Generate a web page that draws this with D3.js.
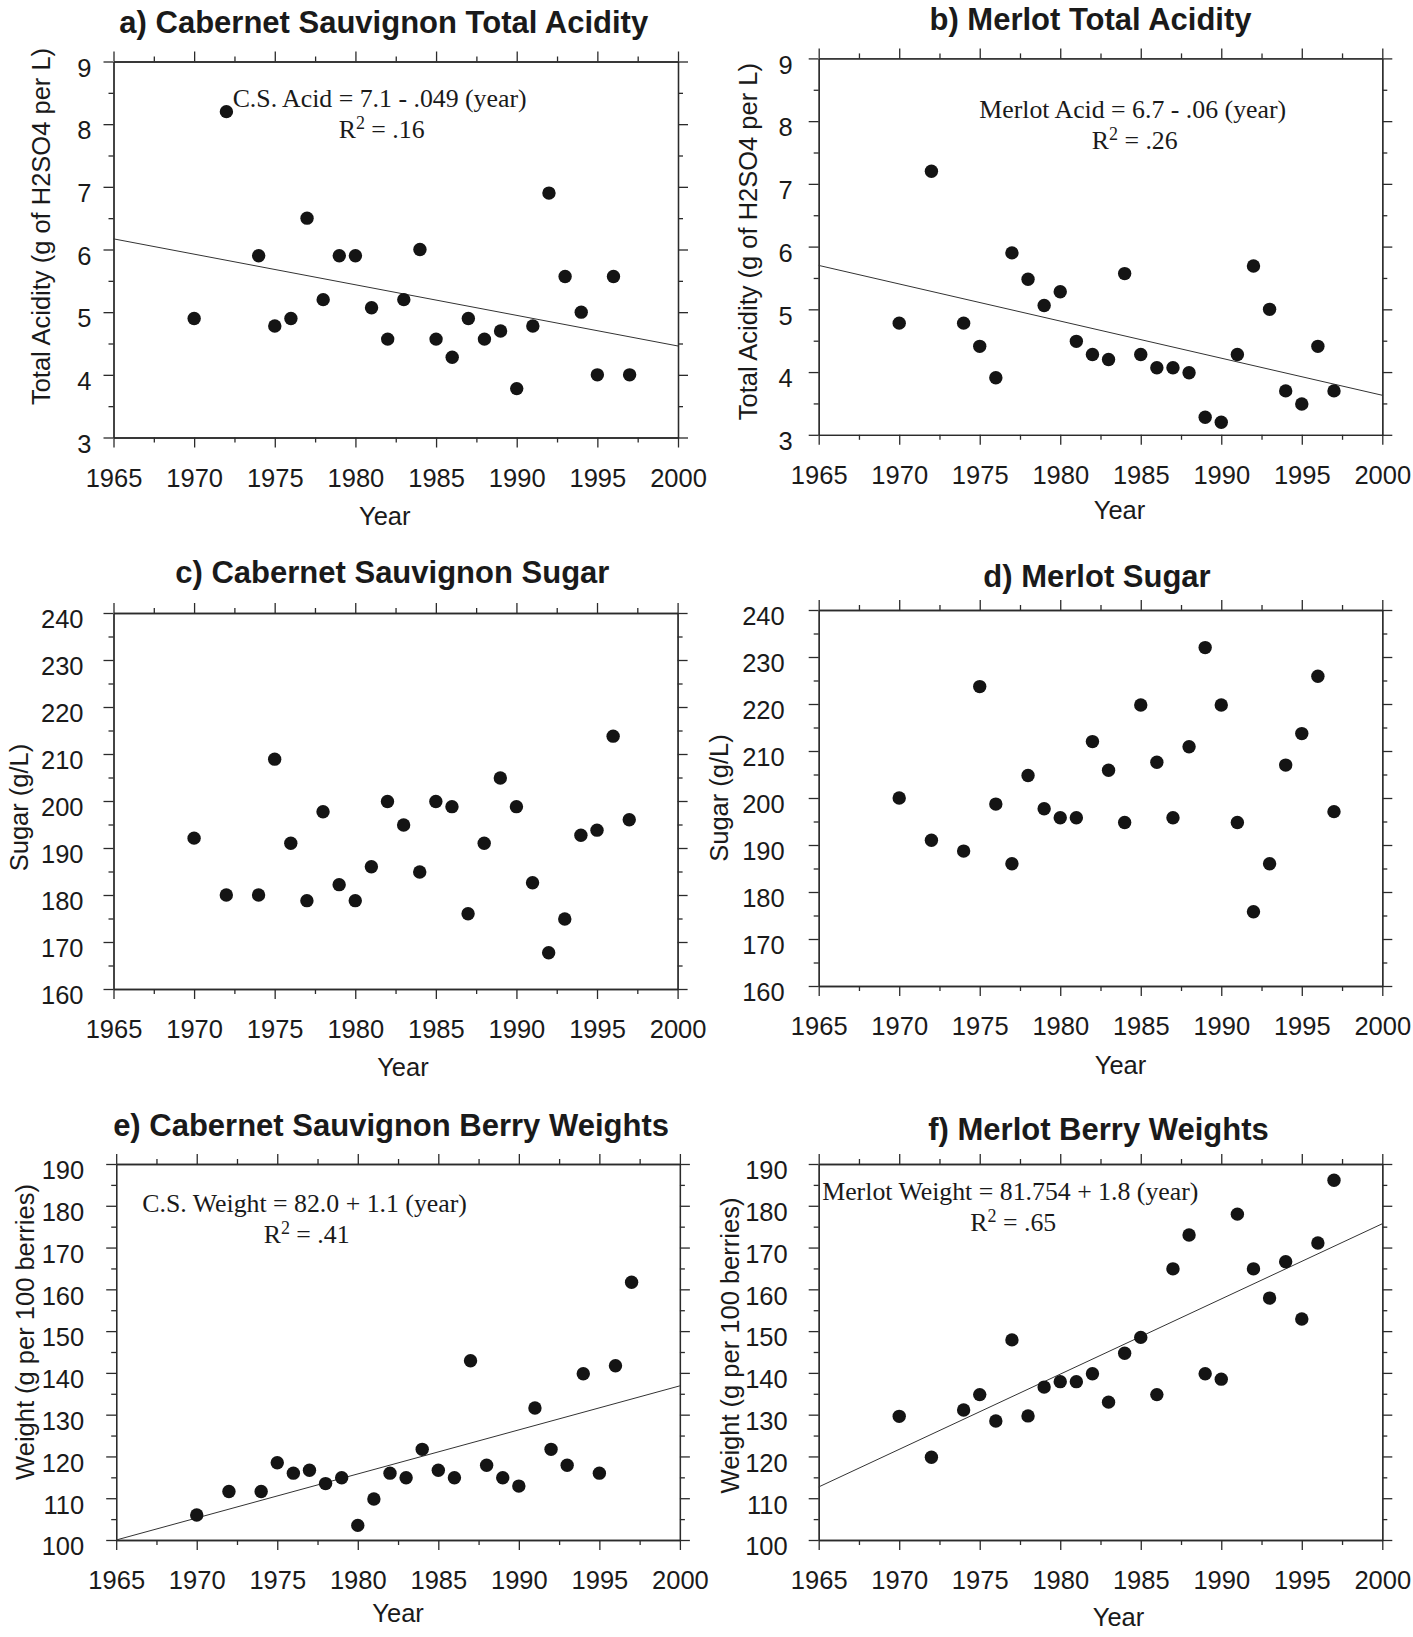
<!DOCTYPE html>
<html lang="en">
<head>
<meta charset="UTF-8">
<title>Wine trends 1970-1997</title>
<script src="https://d3js.org/d3.v7.min.js"></script>
<style>
    body { margin: 0; padding: 0; background: #fff; }
    svg { display: block; }
    .tick text { font-family: "Liberation Sans", Arial, sans-serif; font-size: 25.5px; fill: #1a1a1a; }
    .tick line, .domain { stroke: #2b2b2b; stroke-width: 1.3; }
</style>
</head>
<body>
<svg id="chart"></svg>
<script>
// ---- data ----
const years = [1970, 1972, 1974, 1975, 1976, 1977, 1978, 1979, 1980, 1981, 1982, 1983, 1984,
               1985, 1986, 1987, 1988, 1989, 1990, 1991, 1992, 1993, 1994, 1995, 1996, 1997];

const csAcid     = [4.9, 8.2, 5.9, 4.78, 4.9, 6.5, 5.2, 5.9, 5.9, 5.07, 4.57, 5.2, 6.0,
                    4.57, 4.28, 4.9, 4.57, 4.7, 3.78, 4.78, 6.9, 5.57, 5.0, 4.0, 5.57, 4.0];
const merlotAcid = [4.78, 7.2, 4.78, 4.41, 3.91, 5.9, 5.48, 5.06, 5.28, 4.49, 4.28, 4.2, 5.57,
                    4.28, 4.07, 4.07, 3.99, 3.28, 3.2, 4.28, 5.69, 5.0, 3.7, 3.49, 4.41, 3.7];
const csSugar     = [192.1, 180, 180, 208.9, 191, 178.8, 197.7, 182.2, 178.8, 186, 199.9, 194.9, 184.9,
                     199.9, 198.8, 176, 191, 204.9, 198.8, 182.6, 167.7, 174.9, 192.7, 193.8, 213.8, 196];
const merlotSugar = [200, 191, 188.7, 223.7, 198.7, 186, 204.8, 197.7, 195.8, 195.8, 212, 205.9, 194.8,
                     219.8, 207.6, 195.8, 210.9, 232, 219.8, 194.8, 175.8, 186, 207, 213.7, 225.9, 197.1];
const csWeight     = [106, 111.6, 111.6, 118.5, 116, 116.7, 113.5, 114.9, 103.5, 109.8, 116, 114.9, 121.7,
                      116.7, 114.9, 142.9, 117.9, 114.9, 112.9, 131.6, 121.7, 117.9, 139.8, 116, 141.7, 161.7];
const merlotWeight = [129.6, 119.8, 131.1, 134.8, 128.5, 147.9, 129.7, 136.6, 137.9, 137.9, 139.8, 133, 144.7,
                      148.5, 134.8, 164.9, 173, 139.8, 138.5, 178, 164.9, 157.9, 166.6, 152.9, 171.1, 186.1];

// fitted lines, value at 1965 and at 2000
const trendYears = [1965, 2000];
const csAcidTrend = [6.17, 4.46];
const merlotAcidTrend = [5.70, 3.63];
const csWeightTrend = [100, 136.9];
const merlotWeightTrend = [112.7, 175.7];

const titles = ["a) Cabernet Sauvignon Total Acidity", "b) Merlot Total Acidity",
                "c) Cabernet Sauvignon Sugar", "d) Merlot Sugar",
                "e) Cabernet Sauvignon Berry Weights", "f) Merlot Berry Weights"];
const yTitles = ["Total Acidity (g of H2SO4 per L)", "Total Acidity (g of H2SO4 per L)",
                 "Sugar (g/L)", "Sugar (g/L)",
                 "Weight (g per 100 berries)", "Weight (g per 100 berries)"];
const equations = ["C.S. Acid = 7.1 - .049 (year)", "Merlot Acid = 6.7 - .06 (year)", null, null,
                   "C.S. Weight = 82.0 + 1.1 (year)", "Merlot Weight = 81.754 + 1.8 (year)"];
const rSquared = [".16", ".26", null, null, ".41", ".65"];

const xDomain = [1965, 2000];
const xMajor = d3.range(1965, 2001, 5);
const xMinor = d3.range(1967.5, 2000, 5);
const acidDomain = [3, 9], sugarDomain = [160, 240], weightDomain = [100, 190];

// ---- layout ----
const W = 1413, H = 1637;
const panels = [
    {left: 113.5, top: 61.5, w: 564.5, h: 376, values: csAcid, trend: csAcidTrend, yDomain: acidDomain, yStep: 1,
     yPad: 12, yTitleDist: 64, yTitleDy: -23, titleDx: -12, titleUp: 28.5, yearDx: -11, yearDown: 87.5,
     eqAt: [1981.5, 8.28], r2dx: 2},
    {left: 818.7, top: 58.4, w: 563.6, h: 376.4, values: merlotAcid, trend: merlotAcidTrend, yDomain: acidDomain, yStep: 1,
     yPad: 16, yTitleDist: 61.5, yTitleDy: -5, titleDx: -10, titleUp: 28.4, yearDx: 19, yearDown: 84,
     eqAt: [1984.5, 8.05], r2dx: 2},
    {left: 113.5, top: 613, w: 564.1, h: 376, values: csSugar, trend: null, yDomain: sugarDomain, yStep: 10,
     yPad: 20, yTitleDist: 85.5, yTitleDy: 6.5, titleDx: -3.2, titleUp: 30, yearDx: 7.4, yearDown: 87},
    {left: 818.7, top: 610, w: 563.6, h: 376, values: merlotSugar, trend: null, yDomain: sugarDomain, yStep: 10,
     yPad: 24, yTitleDist: 90.5, yTitleDy: 0, titleDx: -3.5, titleUp: 23.5, yearDx: 20, yearDown: 88},
    {left: 116.2, top: 1164, w: 563.7, h: 376, values: csWeight, trend: csWeightTrend, yDomain: weightDomain, yStep: 10,
     yPad: 22, yTitleDist: 82.4, yTitleDy: -20, titleDx: -7, titleUp: 28, yearDx: 0, yearDown: 82,
     eqAt: [1976.7, 178.5], r2dx: 2},
    {left: 818.7, top: 1164, w: 563.6, h: 376, values: merlotWeight, trend: merlotWeightTrend, yDomain: weightDomain, yStep: 10,
     yPad: 21, yTitleDist: 80.2, yTitleDy: -6.5, titleDx: -2, titleUp: 24, yearDx: 18, yearDown: 86,
     eqAt: [1976.9, 181.4], r2dx: 3}
];

const sans = '"Liberation Sans", Arial, Helvetica, sans-serif';
const serif = '"Liberation Serif", "Times New Roman", serif';

const svg = d3.select("#chart").attr("width", W).attr("height", H);
svg.append("rect").attr("width", W).attr("height", H).attr("fill", "#fff");

panels.forEach((p, i) => {
    const g = svg.append("g").attr("transform", `translate(${p.left},${p.top})`);
    const x = d3.scaleLinear().domain(xDomain).range([0, p.w]);
    const y = d3.scaleLinear().domain(p.yDomain).range([p.h, 0]);

    const yMajor = d3.range(p.yDomain[0], p.yDomain[1] + p.yStep / 2, p.yStep);
    const yMinor = d3.range(p.yDomain[0] + p.yStep / 2, p.yDomain[1], p.yStep);

    // minor ticks first, no labels
    g.append("g").attr("transform", `translate(0,${p.h})`)
        .call(d3.axisBottom(x).tickValues(xMinor).tickSize(5).tickSizeOuter(0).tickFormat(""));
    g.append("g").call(d3.axisTop(x).tickValues(xMinor).tickSize(5).tickSizeOuter(0).tickFormat(""));
    g.append("g").call(d3.axisLeft(y).tickValues(yMinor).tickSize(5).tickSizeOuter(0).tickFormat(""));
    g.append("g").attr("transform", `translate(${p.w},0)`)
        .call(d3.axisRight(y).tickValues(yMinor).tickSize(5).tickSizeOuter(0).tickFormat(""));

    // major ticks
    g.append("g").attr("transform", `translate(0,${p.h})`)
        .call(d3.axisBottom(x).tickValues(xMajor).tickSize(10).tickSizeOuter(0)
            .tickPadding(21).tickFormat(d3.format("d")));
    g.append("g").call(d3.axisTop(x).tickValues(xMajor).tickSize(10).tickSizeOuter(0).tickFormat(""));
    g.append("g")
        .call(d3.axisLeft(y).tickValues(yMajor).tickSize(10).tickSizeOuter(0)
            .tickPadding(p.yPad).tickFormat(d3.format("d")))
        .selectAll("text").attr("dy", "0.58em");
    g.append("g").attr("transform", `translate(${p.w},0)`)
        .call(d3.axisRight(y).tickValues(yMajor).tickSize(10).tickSizeOuter(0).tickFormat(""));

    // trend line
    if (p.trend) {
        g.append("path")
            .datum(trendYears.map((yr, k) => [yr, p.trend[k]]))
            .attr("d", d3.line().x(d => x(d[0])).y(d => y(d[1])))
            .attr("fill", "none")
            .attr("stroke", "#333")
            .attr("stroke-width", 1);
    }

    // points
    g.selectAll("circle.pt")
        .data(years.map((yr, k) => ({year: yr, v: p.values[k]})))
        .enter().append("circle")
        .attr("class", "pt")
        .attr("cx", d => x(d.year))
        .attr("cy", d => y(d.v))
        .attr("r", 6.7)
        .attr("fill", "#141414");

    // equation text
    if (equations[i]) {
        const ex = x(p.eqAt[0]), ey = y(p.eqAt[1]);
        g.append("text")
            .attr("x", ex).attr("y", ey)
            .attr("text-anchor", "middle")
            .style("font-family", serif).style("font-size", "25.8px").attr("fill", "#1a1a1a")
            .text(equations[i]);
        const r2 = g.append("text")
            .attr("x", ex + p.r2dx).attr("y", ey + 31.3)
            .attr("text-anchor", "middle")
            .style("font-family", serif).style("font-size", "25.8px").attr("fill", "#1a1a1a");
        r2.append("tspan").text("R");
        r2.append("tspan").attr("dy", -9).style("font-size", "18px").text("2");
        r2.append("tspan").attr("dy", 9).text(" = " + rSquared[i]);
    }

    // panel title
    svg.append("text")
        .attr("x", p.left + p.w / 2 + p.titleDx)
        .attr("y", p.top - p.titleUp)
        .attr("text-anchor", "middle")
        .style("font-family", sans).style("font-size", "31px").style("font-weight", "bold")
        .attr("fill", "#1a1a1a")
        .text(titles[i]);

    // x title
    svg.append("text")
        .attr("x", p.left + p.w / 2 + p.yearDx)
        .attr("y", p.top + p.h + p.yearDown)
        .attr("text-anchor", "middle")
        .style("font-family", sans).style("font-size", "25.5px")
        .attr("fill", "#1a1a1a")
        .text("Year");

    // y title
    svg.append("text")
        .attr("transform", `translate(${p.left - p.yTitleDist},${p.top + p.h / 2 + p.yTitleDy}) rotate(-90)`)
        .attr("text-anchor", "middle")
        .style("font-family", sans).style("font-size", "25.5px")
        .attr("fill", "#1a1a1a")
        .text(yTitles[i]);
});
</script>
</body>
</html>
